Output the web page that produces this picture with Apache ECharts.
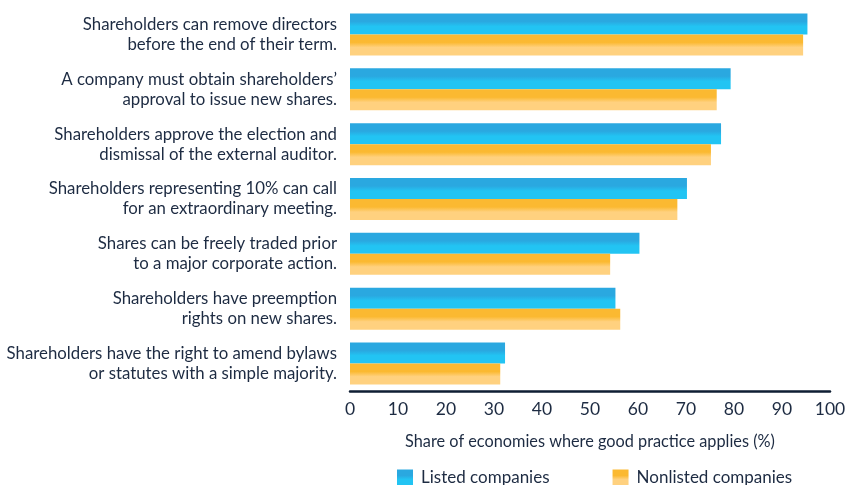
<!DOCTYPE html>
<html>
<head>
<meta charset="utf-8">
<script src="https://cdn.jsdelivr.net/npm/echarts@6/dist/echarts.min.js"></script>
<style>
  html, body { margin: 0; padding: 0; background: #ffffff; }
  #chart { width: 852px; height: 485px; }
</style>
</head>
<body>
<div id="chart"></div>
<script>
// Shareholder rights: share of economies where each good practice applies
const categories = [
  'Shareholders can remove directors\nbefore the end of their term.',
  'A company must obtain shareholders\u2019\napproval to issue new shares.',
  'Shareholders approve the election and\ndismissal of the external auditor.',
  'Shareholders representing 10% can call\nfor an extraordinary meeting.',
  'Shares can be freely traded prior\nto a major corporate action.',
  'Shareholders have preemption\nrights on new shares.',
  'Shareholders have the right to amend bylaws\nor statutes with a simple majority.'
];
const listedValues = [95.3, 79.3, 77.3, 70.2, 60.3, 55.3, 32.3];
const nonlistedValues = [94.4, 76.4, 75.2, 68.2, 54.2, 56.3, 31.3];
const seriesNames = ['Listed companies', 'Nonlisted companies'];
const xTicks = [0, 10, 20, 30, 40, 50, 60, 70, 80, 90, 100];
const xAxisTitle = 'Share of economies where good practice applies (%)';

const textColor = '#1d2b42';
const fontFamily = 'Lato, "Noto Sans", sans-serif';

function twoTone(top, bottom) {
  return new echarts.graphic.LinearGradient(0, 0, 0, 1, [
    { offset: 0, color: top },
    { offset: 0.38, color: top },
    { offset: 0.62, color: bottom },
    { offset: 1, color: bottom }
  ]);
}

const chart = echarts.init(document.getElementById('chart'), null, { renderer: 'canvas' });
chart.setOption({
  animation: false,
  backgroundColor: '#ffffff',
  textStyle: { fontFamily: fontFamily, color: textColor },
  grid: { left: 350, right: 22, top: 7, bottom: 94, containLabel: false },
  xAxis: {
    type: 'value',
    min: xTicks[0],
    max: xTicks[xTicks.length - 1],
    interval: 10,
    name: xAxisTitle,
    nameLocation: 'middle',
    nameGap: 43,
    nameTextStyle: { fontSize: 16.3, color: textColor, fontFamily: fontFamily },
    axisLine: { show: true, lineStyle: { color: '#0f1e33', width: 2.5 } },
    axisTick: { show: false },
    splitLine: { show: false },
    axisLabel: { fontSize: 17.5, color: textColor, margin: 9, fontFamily: fontFamily }
  },
  yAxis: {
    type: 'category',
    data: categories,
    inverse: true,
    axisLine: { show: false },
    axisTick: { show: false },
    axisLabel: {
      fontSize: 16.8, color: textColor, margin: 13, lineHeight: 20,
      align: 'right', fontFamily: fontFamily
    }
  },
  legend: {
    bottom: -6,
    left: 392,
    itemWidth: 16,
    itemHeight: 16,
    itemGap: 63,
    icon: 'rect',
    textStyle: { fontSize: 17, color: textColor, fontFamily: fontFamily, padding: [0, 0, 0, 3] },
    data: seriesNames
  },
  series: [
    {
      name: seriesNames[0],
      type: 'bar',
      data: listedValues,
      barWidth: 21,
      barGap: '0%',
      itemStyle: { color: twoTone('#2aa8e0', '#22c4f3') }
    },
    {
      name: seriesNames[1],
      type: 'bar',
      data: nonlistedValues,
      barWidth: 21,
      barGap: '0%',
      itemStyle: { color: twoTone('#fbb931', '#ffd17f') }
    }
  ]
});
</script>
</body>
</html>
